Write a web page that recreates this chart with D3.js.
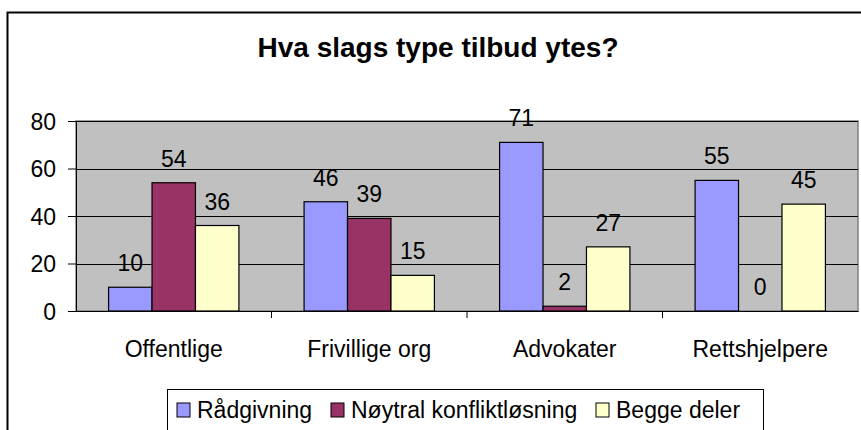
<!DOCTYPE html>
<html>
<head>
<meta charset="utf-8">
<script src="https://cdn.jsdelivr.net/npm/d3@7"></script>
<style>
  body { margin: 0; background: #fff; }
  text { font-family: Arial, "Liberation Sans", sans-serif; fill: #000; }
</style>
</head>
<body>
<svg id="chart"></svg>
<script>
// data
const categories = ["Offentlige", "Frivillige org", "Advokater", "Rettshjelpere"];
const seriesNames = ["Rådgivning", "Nøytral konfliktløsning", "Begge deler"];
const radgivning = [10, 46, 71, 55];
const noytral = [54, 39, 2, 0];
const begge = [36, 15, 27, 45];
const yTicks = [0, 20, 40, 60, 80];
const colors = ["#9999FF", "#993366", "#FFFFCC"];

const w = 861, h = 430;
const plot = {left: 76, right: 858, top: 121, bottom: 311};

const svg = d3.select("#chart").attr("width", w).attr("height", h);

// outer chart frame
svg.append("rect")
  .attr("x", 7.5).attr("y", 12.5)
  .attr("width", 870).attr("height", 440)
  .attr("fill", "#fff").attr("stroke", "#000").attr("stroke-width", 2);

svg.append("text")
  .attr("x", 438).attr("y", 57)
  .attr("text-anchor", "middle")
  .style("font-size", "28px").style("font-weight", "bold")
  .text("Hva slags type tilbud ytes?");

const x = d3.scaleBand().domain(categories).range([plot.left, plot.right]);
const y = d3.scaleLinear().domain([0, 80]).range([plot.bottom, plot.top]);
// gap width 150% -> bar group = 3 bars, gap = 1.5 bars
const inner = d3.scaleBand().domain(seriesNames)
  .range([0, x.bandwidth()]).paddingOuter(0.75).paddingInner(0);

// plot area
svg.append("rect")
  .attr("x", plot.left).attr("y", plot.top)
  .attr("width", plot.right - plot.left).attr("height", plot.bottom - plot.top)
  .attr("fill", "#C0C0C0").attr("stroke", "#808080").attr("stroke-width", 1.5);

// gridlines
svg.append("g").selectAll("line")
  .data(yTicks.slice(1))
  .join("line")
  .attr("x1", plot.left).attr("x2", plot.right)
  .attr("y1", d => Math.round(y(d)) + 0.5).attr("y2", d => Math.round(y(d)) + 0.5)
  .attr("stroke", "#000").attr("stroke-width", 1);

const rows = categories.map((c, i) => ({
  cat: c,
  vals: [radgivning[i], noytral[i], begge[i]]
}));

const groups = svg.append("g").selectAll("g")
  .data(rows)
  .join("g")
  .attr("transform", d => `translate(${x(d.cat)},0)`);

groups.selectAll("rect")
  .data(d => d.vals.map((v, k) => ({v, k})))
  .join("rect")
  .attr("x", d => inner(seriesNames[d.k]))
  .attr("y", d => y(d.v))
  .attr("width", inner.bandwidth())
  .attr("height", d => y(0) - y(d.v))
  .attr("fill", d => colors[d.k])
  .attr("stroke", "#000").attr("stroke-width", 1.2);

groups.selectAll("text")
  .data(d => d.vals.map((v, k) => ({v, k})))
  .join("text")
  .attr("x", d => inner(seriesNames[d.k]) + inner.bandwidth() / 2)
  .attr("y", d => y(d.v) - 16)
  .attr("text-anchor", "middle")
  .style("font-size", "23px")
  .text(d => d.v);

// y axis
const yAxis = svg.append("g")
  .attr("transform", `translate(${plot.left},0)`)
  .call(d3.axisLeft(y).tickValues(yTicks).tickSize(8).tickPadding(12));
yAxis.select(".domain").attr("stroke", "#000");
yAxis.selectAll("text").style("font-size", "23px").attr("dy", "0.35em");

// x axis
const xAxis = svg.append("g")
  .attr("transform", `translate(0,${plot.bottom})`)
  .call(d3.axisBottom(x).tickSize(0).tickPadding(30));
xAxis.select(".domain").attr("stroke", "#000");
xAxis.selectAll("text").style("font-size", "23px");
// category divider ticks
svg.append("g").selectAll("line")
  .data(categories.slice(1))
  .join("line")
  .attr("x1", d => x(d)).attr("x2", d => x(d))
  .attr("y1", plot.bottom).attr("y2", plot.bottom + 7)
  .attr("stroke", "#000");

// legend
const legend = svg.append("g");
legend.append("rect")
  .attr("x", 167.5).attr("y", 389.5)
  .attr("width", 596).attr("height", 60)
  .attr("fill", "#fff").attr("stroke", "#000");
const legX = [177, 331, 596];
const item = legend.selectAll("g.item")
  .data(seriesNames)
  .join("g").attr("class", "item")
  .attr("transform", (d, i) => `translate(${legX[i]},403)`);
item.append("rect")
  .attr("width", 13).attr("height", 14)
  .attr("fill", (d, i) => colors[i]).attr("stroke", "#000");
item.append("text")
  .attr("x", 20).attr("y", 15)
  .style("font-size", "23px")
  .text(d => d);
</script>
</body>
</html>
